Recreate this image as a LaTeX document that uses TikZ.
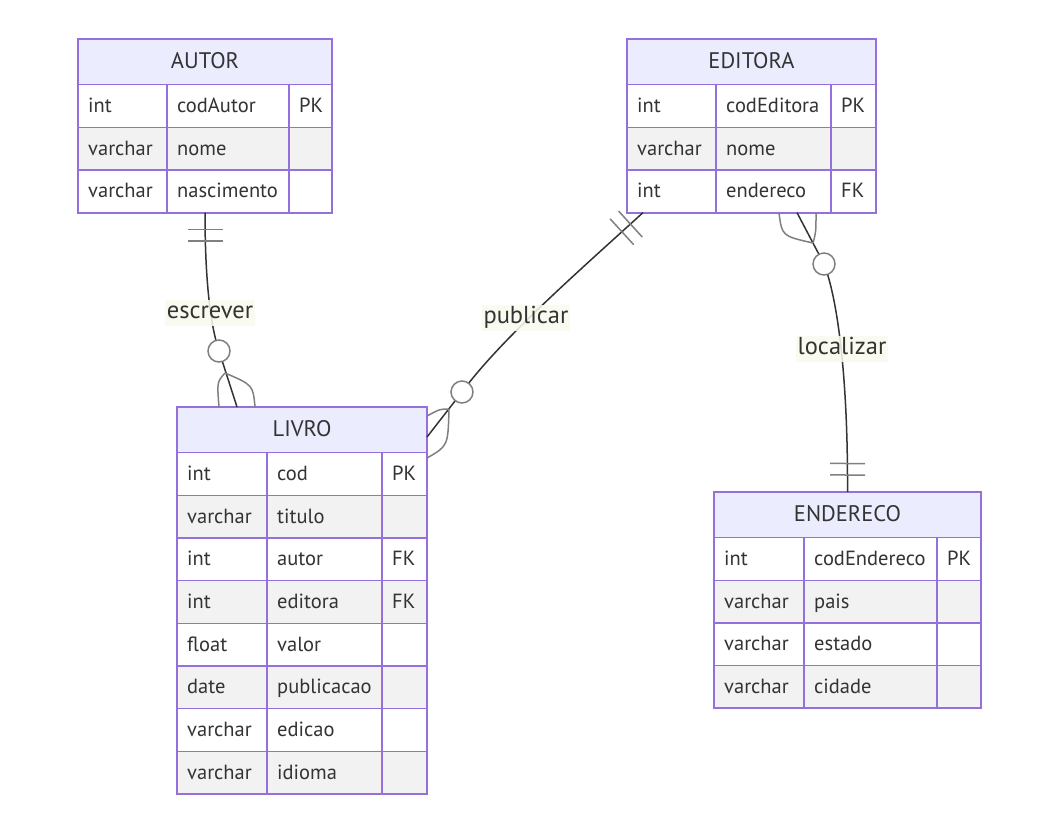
\documentclass[tikz,border=0pt]{standalone}
\usepackage{fontspec}
\setmainfont{PT Sans}
\usepackage{tikz}
\usetikzlibrary{calc}
\usepackage{xcolor}
\definecolor{entborder}{HTML}{9370DB}
\definecolor{headbg}{HTML}{ECECFF}
\definecolor{rowgray}{HTML}{F2F2F2}
\definecolor{inktext}{HTML}{333333}
\definecolor{markgray}{HTML}{808080}
\definecolor{labelbg}{HTML}{F9FBEE}
\tikzset{
    celltext/.style={anchor=west,inner sep=0mm,text height=17pt,text depth=4pt,
        text=inktext,font=\fontsize{20.5}{22}\selectfont},
    headtext/.style={celltext,anchor=center,text height=18pt,text depth=4pt,
        font=\fontsize{22.5}{24}\selectfont},
    gridline/.style={draw=entborder,line width=1.4pt},
    outline/.style={draw=entborder,line width=2pt,inner sep=0mm,outer sep=0mm},
    relline/.style={draw=inktext,line width=1.5pt},
    marker/.style={draw=markgray,line width=1.5pt},
    zeroring/.style={marker,circle,fill=white,minimum size=22pt,inner sep=0mm},
    edgelabel/.style={fill=labelbg,fill opacity=.85,text opacity=1,text=inktext,
        inner xsep=2pt,inner ysep=2.5pt,text height=16pt,text depth=5pt,
        font=\fontsize{24.5}{26}\selectfont}
}
% table: name, left, col 2, col 3, right, top, rows, title, attributes
\newcommand{\entity}[9] {
    \fill[headbg] (#2,#6) rectangle (#5,#6+45.5);
    \node[headtext] (#1-title) at ({(#2+#5)/2},#6+22.75) {#8};
    \foreach \ty/\nm/\ky [count=\i] in {#9} {
        \pgfmathsetmacro{\ya}{#6+45.5+(\i-1)*42.7}
        \pgfmathsetmacro{\yb}{\ya+42.7}
        \ifodd\i\relax \def\rowcol{white}\else \def\rowcol{rowgray}\fi
        \fill[fill=\rowcol] (#2,\ya) rectangle (#5,\yb);
        \draw[gridline] (#2,\ya) -- (#5,\ya) (#3,\ya) -- (#3,\yb) (#4,\ya) -- (#4,\yb);
        \node[celltext] (#1-\i-type) at (#2+10,{(\ya+\yb)/2}) {\ty};
        \node[celltext] (#1-\i-name) at (#3+10,{(\ya+\yb)/2}) {\nm};
        \node[celltext] (#1-\i-key)  at (#4+10,{(\ya+\yb)/2}) {\ky};
    }
    \node[outline,minimum width={#5-#2},minimum height={45.5+#7*42.7},anchor=north west] (#1) at (#2,#6) {};
}
% two bars near an end
\newcommand{\onlyone}[2] {
    \foreach \d in {17pt,28.5pt} {
        \coordinate (bar) at ($(#1)!\d!(#2)$);
        \draw[marker] ($(bar)!17.5pt!90:(#2)$) -- ($(bar)!17.5pt!-90:(#2)$);
    }
}

\begin{document}
\begin{tikzpicture}[x={(1pt,0pt)},y={(0pt,-1pt)}]
        \useasboundingbox[fill=white] (0,0) rectangle (1059,833);
        % tables
        \entity{autor}{78}{167}{289}{332}{39}{3}{AUTOR}
            {int/codAutor/PK, varchar/nome/, varchar/nascimento/}
        \entity{editora}{627}{716}{831}{876}{39}{3}{EDITORA}
            {int/codEditora/PK, varchar/nome/, int/endereco/FK}
        \entity{livro}{177}{267}{382}{427}{407}{8}{LIVRO}
            {int/cod/PK, varchar/titulo/, int/autor/FK, int/editora/FK,
             float/valor/, date/publicacao/, varchar/edicao/, varchar/idioma/}
        \entity{endereco}{714}{804}{937}{981}{492}{4}{ENDERECO}
            {int/codEndereco/PK, varchar/pais/, varchar/estado/, varchar/cidade/}
        % ends
        \coordinate (livro-esc) at ([xshift=-65pt]livro.north);
        \coordinate (livro-pub) at ([yshift=-30pt]livro.north east);
        \coordinate (editora-pub) at ([xshift=-108.5pt]editora.south);
        \coordinate (editora-loc) at ([xshift=45.5pt]editora.south);
        \coordinate (esc-o) at (219,351);
        \coordinate (pub-o) at (462,392);
        \coordinate (loc-o) at (824,264);
        % escrever
        \draw[relline] (autor.south) .. controls (205,290) and (212,330) .. (esc-o) -- (livro-esc);
        \onlyone{autor.south}{205,290}
        \draw[marker] (225,373) .. controls (217,382) .. (219,407)
                      (225,373) .. controls (253,385) .. (255,407);
        \node[zeroring] (esc-ring) at (esc-o) {};
        % publicar
        \draw[relline] (editora-pub) .. controls (580,270) and (500,340) .. (pub-o) -- (livro-pub);
        \onlyone{editora-pub}{580,270}
        \draw[marker] (449,409) .. controls (440,409) .. (427,416)
                      (449,409) .. controls (448,446) .. (427,458);
        \node[zeroring] (pub-ring) at (pub-o) {};
        % localizar
        \draw[relline] (editora-loc) -- (loc-o) .. controls (838,300) and (848,380) .. (endereco.north);
        \onlyone{endereco.north}{848,380}
        \draw[marker] (813,243) .. controls (782,236) .. (779,213)
                      (813,243) .. controls (816,232) .. (816,213);
        \node[zeroring] (loc-ring) at (loc-o) {};
        % labels
        \node[edgelabel] (lbl-esc) at (210,312.5) {escrever};
        \node[edgelabel] (lbl-pub) at (526,317.5) {publicar};
        \node[edgelabel] (lbl-loc) at (842,348.5) {localizar};
    \end{tikzpicture}
\end{document}
